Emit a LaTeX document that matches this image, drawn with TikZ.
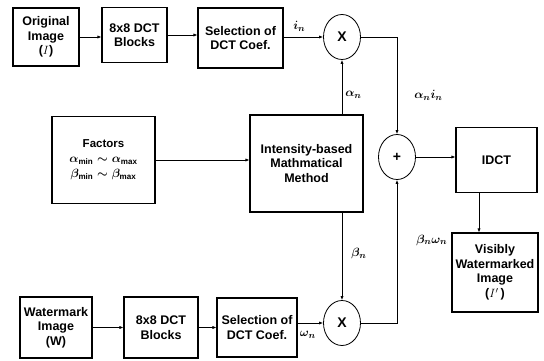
\documentclass[tikz,border=0pt]{standalone}
\usepackage{amsmath}
\usepackage{fontspec}
\setmainfont{Liberation Sans}
\usetikzlibrary{arrows.meta,shapes.geometric}
\newcommand{\bmx}[1]{\boldsymbol{#1}}
\begin{document}
\begin{tikzpicture}[x=1pt,y=-1pt,
  box/.style={draw, line width=1.1pt, align=center, inner sep=1pt,
    font=\bfseries\fontsize{12.5}{14.5}\selectfont},
  op/.style={draw, ellipse, line width=0.8pt, minimum width=37pt, minimum height=45pt, inner sep=0pt,
    font=\bfseries\fontsize{14}{16}\selectfont},
  arr/.style={-{Latex[length=4pt,width=3.2pt]}, line width=0.7pt},
  lab/.style={font=\fontsize{12.5}{14}\selectfont, inner sep=1pt}]
\useasboundingbox (0,0) rectangle (544,361);
% top row
\node[box, minimum width=66pt, minimum height=58pt] (orig) at (46,37) {Original\\Image\\($I$)};
\node[box, minimum width=65pt, minimum height=55pt] (dct1) at (134.5,35) {8x8 DCT\\Blocks};
\node[box, minimum width=85pt, minimum height=60pt] (sel1) at (240.5,38) {Selection of\\DCT Coef.};
\node[op] (x1) at (342,37) {X};
% middle row
\node[box, minimum width=103pt, minimum height=87pt, font=\bfseries\fontsize{11.5}{15}\selectfont] (fac) at (103.5,160) {Factors\\$\bmx{\alpha_{\min}\sim\alpha_{\max}}$\\$\bmx{\beta_{\min}\sim\beta_{\max}}$};
\node[box, minimum width=113pt, minimum height=97pt] (ibm) at (306.5,163.5) {Intensity-based\\Mathmatical\\Method};
\node[op] (plus) at (397,157) {+};
\node[box, minimum width=81pt, minimum height=65pt] (idct) at (496.5,160) {IDCT};
\node[box, minimum width=86pt, minimum height=79pt] (vis) at (495,272.5) {Visibly\\Watermarked\\Image\\($I'$\,)};
% bottom row
\node[box, minimum width=72pt, minimum height=61pt] (wm) at (56,327.5) {Watermark\\Image\\(W)};
\node[box, minimum width=74pt, minimum height=61pt] (dct2) at (161,327.5) {8x8 DCT\\Blocks};
\node[box, minimum width=80pt, minimum height=59pt] (sel2) at (257,327.5) {Selection of\\DCT Coef.};
\node[op] (x2) at (342,323) {X};
% connectors
\draw[arr] (orig.east) -- (orig.east -| dct1.west);
\draw[arr] (dct1.east) -- (dct1.east -| sel1.west);
\draw[arr] (sel1.east |- x1) -- (x1.west) node[lab, pos=0.4, above=4pt] (lin) {$\bmx{i_n}$};
\draw[arr] (ibm.north -| x1) -- (x1.south) node[lab, pos=0.36, right=2pt] (la) {$\bmx{\alpha_n}$};
\draw[arr] (x1.east) -| (plus.north) node[lab, pos=0.8, right=16pt] (lai) {$\bmx{\alpha_n i_n}$};
\draw[arr] (fac.east) -- (fac.east -| ibm.west);
\draw[arr] (plus.east) -- (plus.east -| idct.west);
\draw[arr] ([xshift=-16pt]vis.north |- idct.south) -- ([xshift=-16pt]vis.north);
\draw[arr] (ibm.south -| x2) -- (x2.north) node[lab, pos=0.47, right=8pt] (lb) {$\bmx{\beta_n}$};
\draw[arr] (x2.east) -| (plus.south) node[lab, pos=0.79, right=18pt] (lbw) {$\bmx{\beta_n\omega_n}$};
\draw[arr] (wm.east) -- (wm.east -| dct2.west);
\draw[arr] (dct2.east) -- (dct2.east -| sel2.west);
\draw[arr] (sel2.east |- x2) -- (x2.west) node[lab, pos=0.4, below=7pt] (lw) {$\bmx{\omega_n}$};
\end{tikzpicture}
\end{document}
